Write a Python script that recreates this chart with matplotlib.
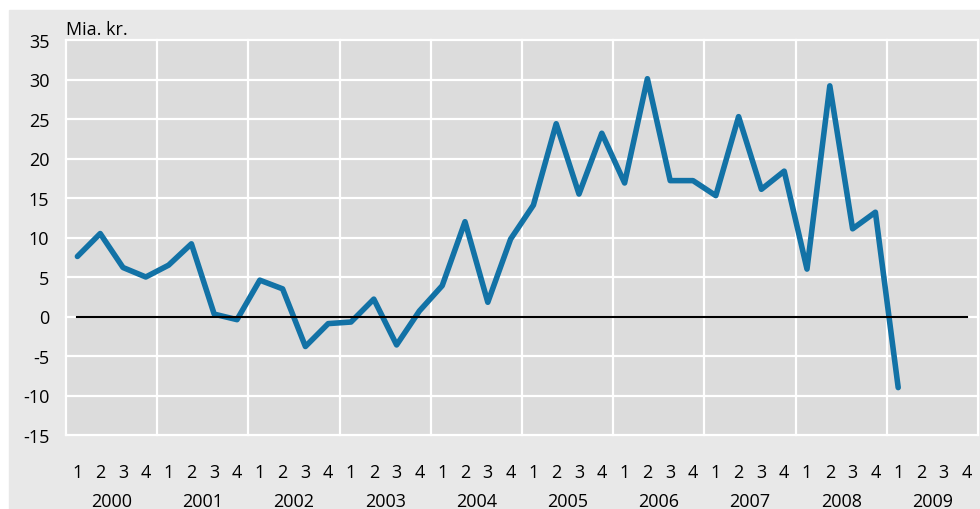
import matplotlib.pyplot as plt
from matplotlib.patches import Rectangle

plt.rcParams['font.family'] = ['Open Sans', 'DejaVu Sans']
plt.rcParams['axes.unicode_minus'] = False

# Quarterly values, bn. DKK
years = ['2000', '2001', '2002', '2003', '2004', '2005', '2006', '2007', '2008', '2009']
quarters = ['1', '2', '3', '4']
values = [
    7.6, 10.5, 6.2, 5.0,
    6.5, 9.2, 0.3, -0.4,
    4.6, 3.5, -3.8, -0.9,
    -0.7, 2.2, -3.6, 0.7,
    3.9, 12.0, 1.8, 9.8,
    14.1, 24.4, 15.5, 23.2,
    16.9, 30.1, 17.2, 17.2,
    15.3, 25.3, 16.1, 18.4,
    6.0, 29.2, 11.1, 13.2,
    -9.0,
]
yticks = list(range(-15, 40, 5))

n_q = len(years) * 4
xpos = [i + 0.5 for i in range(len(values))]

fig = plt.figure(figsize=(9.8, 5.1), dpi=100, facecolor='white')
fig.patches.append(Rectangle((9 / 980, 0), 1, (510 - 11) / 510,
                             transform=fig.transFigure, color='#e8e8e8', zorder=-10))

ax = fig.add_axes([66 / 980, (510 - 436) / 510, (978 - 66) / 980, (436 - 41) / 510])
ax.set_zorder(1)
ax.set_facecolor('#dcdcdc')

ax.set_xlim(0, n_q)
ax.set_ylim(-15, 35)

# white grid: year separators and every 5
for k in range(len(years) + 1):
    ax.axvline(k * 4, color='white', lw=1.6, zorder=1, clip_on=False)
for v in yticks:
    ax.axhline(v, color='white', lw=1.6, zorder=1, clip_on=False)
for s in ax.spines.values():
    s.set_visible(False)

ax.plot(xpos, values, color='#1272a6', lw=4, solid_joinstyle='round',
        solid_capstyle='round', zorder=3)
ax.plot([0.5, n_q - 0.5], [0, 0], color='black', lw=1.5, zorder=4)

ax.set_yticks(yticks)
ax.set_yticklabels([str(v) for v in yticks])
ax.set_xticks([i + 0.5 for i in range(n_q)])
ax.set_xticklabels(quarters * len(years))
ax.set_xticks([k * 4 + 2 for k in range(len(years))], minor=True)
ax.set_xticklabels(years, minor=True)
ax.tick_params(axis='y', length=0, pad=12, labelsize=13)
ax.tick_params(axis='x', which='major', length=0, pad=20, labelsize=13)
ax.tick_params(axis='x', which='minor', length=0, pad=41, labelsize=13)

fig.text(66 / 980, (510 - 35) / 510, 'Mia. kr.', fontsize=13, va='baseline', ha='left')

fig.savefig('out.png', dpi=100, facecolor=fig.get_facecolor())
